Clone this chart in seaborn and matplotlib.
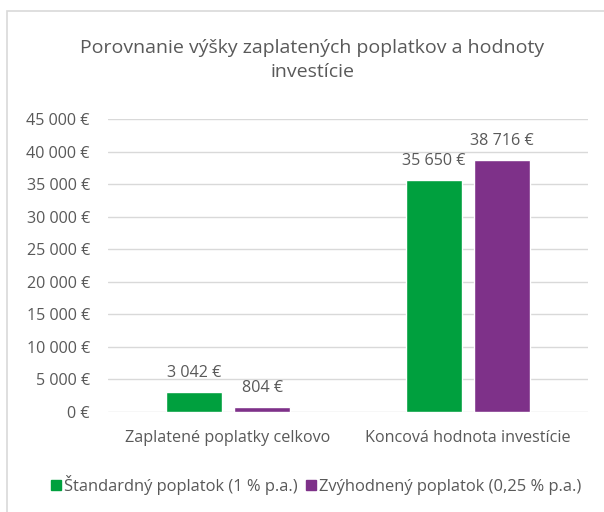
import matplotlib
matplotlib.use("Agg")
import matplotlib.pyplot as plt
import seaborn as sns
import pandas as pd
from matplotlib.patches import Rectangle
from matplotlib.ticker import FuncFormatter

categories = ["Zaplatené poplatky celkovo", "Koncová hodnota investície"]
series_names = ["Štandardný poplatok (1 % p.a.)", "Zvýhodnený poplatok (0,25 % p.a.)"]
standard = [3042, 35650]
discounted = [804, 38716]
colors = ["#00A03E", "#7E3189"]
title = "Porovnanie výšky zaplatených poplatkov a hodnoty\ninvestície"

df = pd.DataFrame({
    "cat": categories * 2,
    "series": [series_names[0]] * 2 + [series_names[1]] * 2,
    "val": standard + discounted,
})

sns.set_theme(style="white")
plt.rcParams["font.family"] = ["Open Sans", "DejaVu Sans"]
txt = "#595959"
fs = 11.6

fig = plt.figure(figsize=(6.04, 5.12), dpi=100)
ax = fig.add_axes([108/604, 1 - 412/512, 480/604, (412-119)/512])

sns.barplot(data=df, x="cat", y="val", hue="series", palette=colors,
            width=0.57, gap=0.19, ax=ax, legend=False, saturation=1)

def fmt(v):
    return f"{int(v):,}".replace(",", " ") + " €"

ax.set_ylim(0, 45000)
ax.set_yticks(range(0, 45001, 5000))
ax.yaxis.set_major_formatter(FuncFormatter(lambda v, p: fmt(v)))
ax.grid(axis="y", color="#D9D9D9", linewidth=1)
ax.set_axisbelow(True)
for s in ax.spines.values():
    s.set_visible(False)
ax.tick_params(axis="both", length=0, colors=txt, labelsize=fs)
ax.tick_params(axis="y", pad=13)
ax.tick_params(axis="x", pad=13)
ax.set_xlabel("")
ax.set_ylabel("")

for cont in ax.containers:
    ax.bar_label(cont, labels=[fmt(b.get_height()) for b in cont], padding=8,
                 color=txt, fontsize=fs)

fig.text(312/604, 1 - 60/512, title, ha="center", va="center", fontsize=14,
         color=txt, linespacing=1.42, multialignment="center")

handles = [Rectangle((0, 0), 1, 1, color=c) for c in colors]
fig.legend(handles, series_names, loc="center", bbox_to_anchor=(316/604, 1 - 485/512),
           ncol=2, frameon=False, fontsize=11.9, labelcolor=txt,
           handlelength=0.6, handleheight=0.6, handletextpad=0.2, columnspacing=0.5)

fig.add_artist(Rectangle((7/604, -0.1), 1.2, 1.1 - 10.5/512, transform=fig.transFigure,
                         fill=False, edgecolor="#D9D9D9", linewidth=1.2))

fig.savefig("out.png", dpi=100, facecolor="white")
